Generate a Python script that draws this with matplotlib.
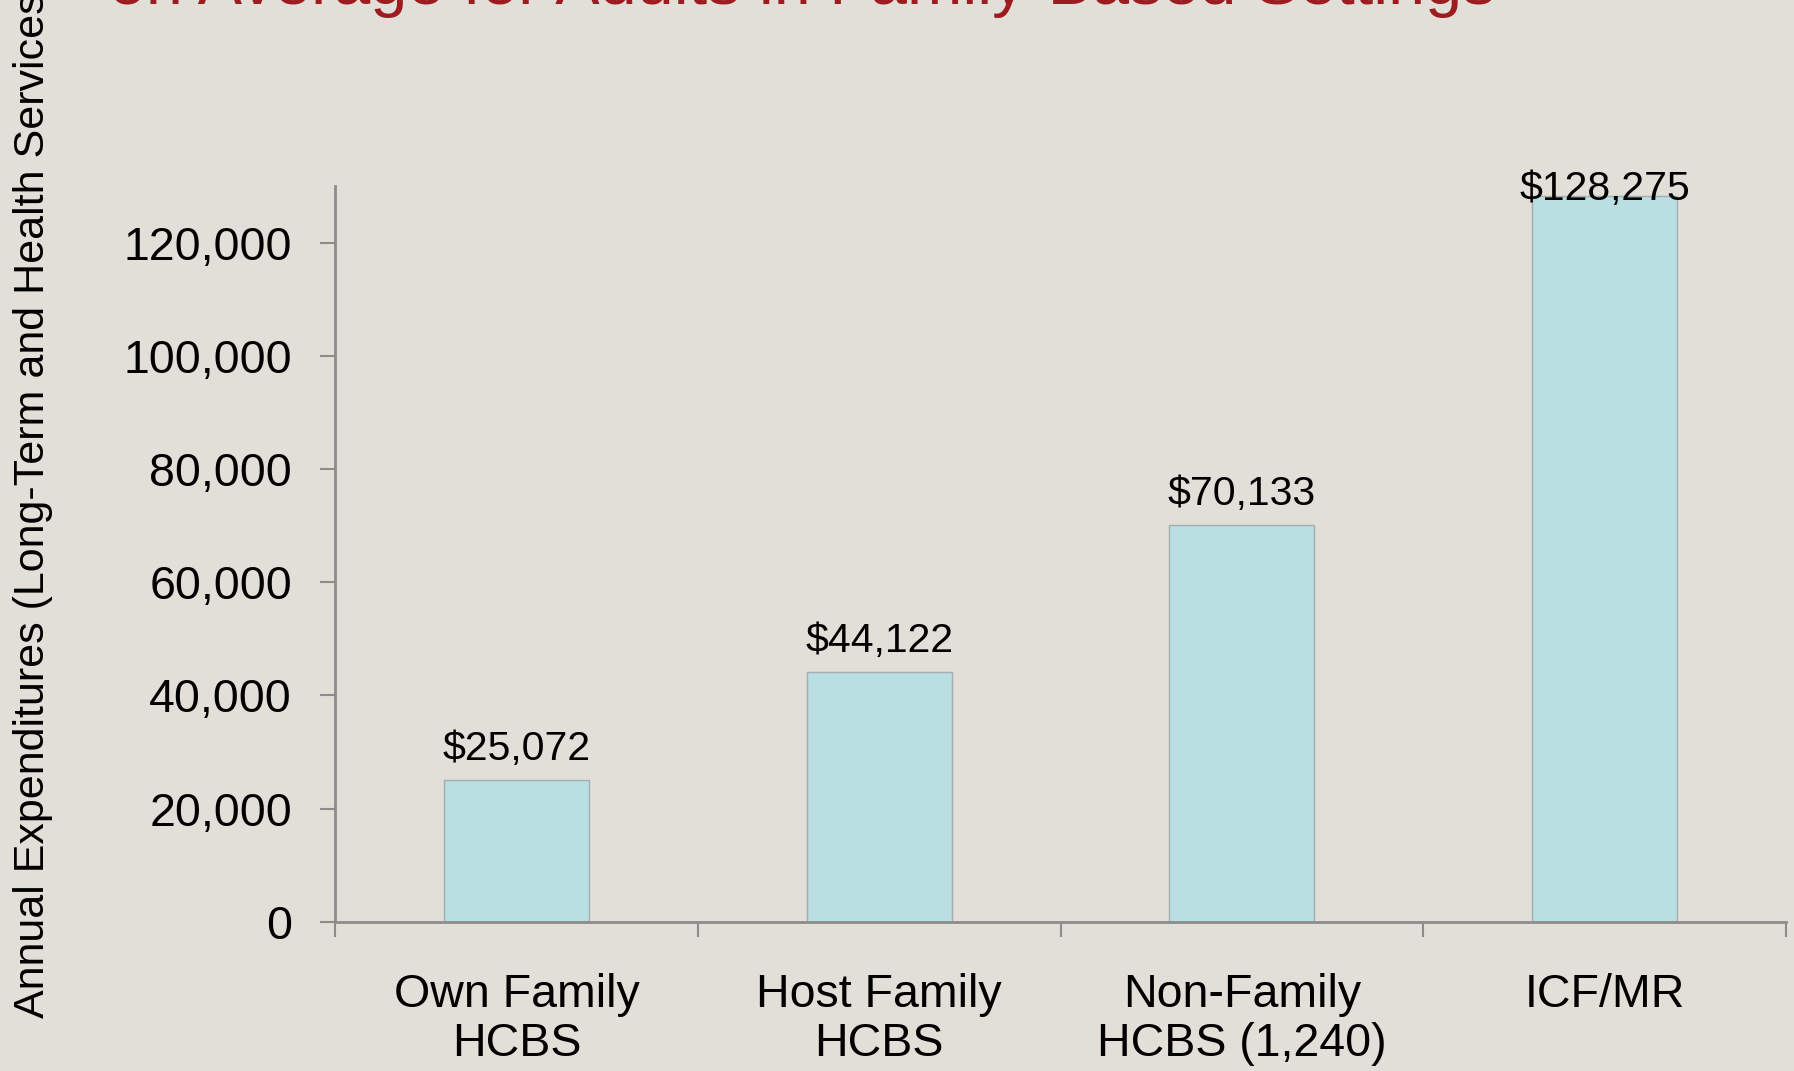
import matplotlib.pyplot as plt
import numpy as np

# chart data
categories = ["Own Family\nHCBS", "Host Family\nHCBS", "Non-Family\nHCBS (1,240)", "ICF/MR"]
expenditures = [25072, 44122, 70133, 128275]
yticks = [0, 20000, 40000, 60000, 80000, 100000, 120000]

title_text = "on Average for Adults in Family-Based Settings"
ylabel_text = "Annual Expenditures (Long-Term and Health Services)"

BG = "#E2DED8"
BAR = "#B9DFE2"
AXIS = "#8C8C8C"

plt.rcParams['font.family'] = ['Liberation Sans', 'DejaVu Sans']

fig = plt.figure(figsize=(17.94, 10.71), dpi=100, facecolor=BG)
ax = fig.add_axes([335 / 1794, 1 - 921.7 / 1071, (1786 - 335) / 1794, (921.7 - 186) / 1071])
ax.set_facecolor(BG)

ymax = 130000
x = np.arange(len(categories))
bars = ax.bar(x, expenditures, width=0.4, color=BAR, edgecolor="#A3AEAF", linewidth=1, zorder=2)

for rect, val in zip(bars, expenditures):
    # labels that would run above the plot area get pushed down onto the bar
    off = -3.4 if val > 0.95 * ymax else 14.4
    ax.annotate(f"${val:,}", (rect.get_x() + rect.get_width() / 2, val),
                xytext=(0, off), textcoords="offset points",
                ha="center", va="baseline", fontsize=29.5, color="black", zorder=3)

ax.set_xlim(-0.5, len(categories) - 0.5)
ax.set_ylim(0, ymax)

# boundary ticks (major) + centred labels (minor)
ax.set_xticks(np.arange(len(categories) + 1) - 0.5)
ax.set_xticklabels([])
ax.set_xticks(x, minor=True)
ax.set_xticklabels(categories, minor=True, fontsize=33.5, linespacing=1.13)
ax.tick_params(axis="x", which="major", length=11, width=1.5, color=AXIS, direction="out")
ax.tick_params(axis="x", which="minor", length=0, pad=37)

ax.set_yticks(yticks)
ax.set_yticklabels([f"{v:,}" for v in yticks], fontsize=33.5)
ax.tick_params(axis="y", length=11, width=1.5, color=AXIS, direction="out", pad=20)

for side in ["top", "right"]:
    ax.spines[side].set_visible(False)
for side in ["left", "bottom"]:
    ax.spines[side].set_color(AXIS)
    ax.spines[side].set_linewidth(2)

# title is cut off at the top edge in the original
fig.text(109 / 1794, 1 - 4 / 1071, title_text, ha="left", va="baseline",
         fontsize=47.9, color="#9C1C1F")

# y label also runs past the top edge in the original
fig.text(33 / 1794, 1 - 1018 / 1071, ylabel_text, rotation=90,
         ha="center", va="bottom", fontsize=31, color="black")

fig.savefig("out.png", dpi=100, facecolor=BG)
